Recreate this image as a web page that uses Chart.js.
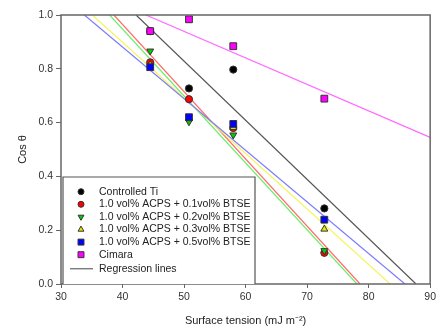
<!DOCTYPE html>
<html>
<head>
<meta charset="utf-8">
<script src="https://cdn.jsdelivr.net/npm/chart.js@4"></script>
<style>
  html, body { margin: 0; padding: 0; background: #fff; }
  #wrap { width: 439px; height: 328px; position: relative; }
</style>
</head>
<body>
<div id="wrap"><canvas id="grafico"></canvas></div>
<script>
// surface tension of the test liquids (mJ m-2)
const tension = [44.5, 50.8, 58.0, 72.8];

// cos theta for each surface
const controlledTi = [0.940, 0.727, 0.797, 0.281];
const btse01 = [0.824, 0.687, 0.580, 0.116];
const btse02 = [0.866, 0.603, 0.554, 0.124];
const btse03 = [0.815, 0.615, 0.582, 0.204];
const btse05 = [0.806, 0.620, 0.595, 0.239];
const cimara = [0.940, 0.984, 0.884, 0.689];

const seriesNames = [
    'Controlled Ti',
    '1.0 vol% ACPS + 0.1vol% BTSE',
    '1.0 vol% ACPS + 0.2vol% BTSE',
    '1.0 vol% ACPS + 0.3vol% BTSE',
    '1.0 vol% ACPS + 0.5vol% BTSE',
    'Cimara'
];

// regression line end points, same order as the series
const regStartX = [42.2, 38.6, 37.9, 35.1, 33.8, 43.8];
const regStartY = [1.0, 1.0, 1.0, 1.0, 1.0, 1.0];
const regEndX = [87.7, 78.6, 78.1, 83.5, 85.9, 90.0];
const regEndY = [0.0, 0.0, 0.0, 0.0, 0.0, 0.545];

const xTicks = [30, 40, 50, 60, 70, 80, 90];
const yTicks = [0.0, 0.2, 0.4, 0.6, 0.8, 1.0];

const values = [controlledTi, btse01, btse02, btse03, btse05, cimara];
const fills = ['#000000', '#ff0000', '#00d000', '#e8e800', '#0000ff', '#ff00ff'];
const lineColors = ['#555555', '#ff6a6a', '#6aee6a', '#f4f460', '#7c7cff', '#ff6cff'];
const styles = ['circle', 'circle', 'triangle', 'triangle', 'rect', 'rect'];
const rotations = [0, 0, 180, 0, 0, 0];
const radii = [3.6, 3.6, 4, 4, 4.8, 4.8];

const FONT = '"Liberation Sans", Arial, sans-serif';

const datasets = [];
values.forEach((vals, i) => {
    datasets.push({
        label: seriesNames[i],
        data: tension.map((t, k) => ({x: t, y: vals[k]})),
        showLine: false,
        pointStyle: styles[i],
        rotation: rotations[i],
        pointRadius: radii[i],
        backgroundColor: fills[i],
        borderColor: '#333',
        borderWidth: 1,
        order: 16 - i
    });
});
values.forEach((vals, i) => {
    datasets.push({
        label: 'reg' + i,
        data: [{x: regStartX[i], y: regStartY[i]}, {x: regEndX[i], y: regEndY[i]}],
        showLine: true,
        pointRadius: 0,
        borderColor: lineColors[i],
        borderWidth: 1.2,
        order: 30 - i
    });
});

const frame = {
    id: 'frame',
    afterDatasetsDraw(chart) {
        const a = chart.chartArea;
        const c = chart.ctx;
        c.save();
        c.strokeStyle = '#666';
        c.lineWidth = 1.5;
        c.strokeRect(a.left, a.top, a.right - a.left, a.bottom - a.top);

        // legend box
        const L = 63, T = 177, R = 255, B = a.bottom;
        c.fillStyle = '#fff';
        c.fillRect(L, T, R - L, B - T);
        c.strokeStyle = '#555';
        c.lineWidth = 1.2;
        c.beginPath();
        c.moveTo(L, B);
        c.lineTo(L, T);
        c.lineTo(R, T);
        c.lineTo(R, B);
        c.stroke();

        c.font = '10.5px ' + FONT;
        c.textBaseline = 'middle';
        const rowH = 12.6;
        for (let i = 0; i < seriesNames.length; i++) {
            const y = 191.7 + i * rowH;
            c.fillStyle = fills[i];
            c.strokeStyle = '#333';
            c.lineWidth = 1;
            Chart.helpers.drawPoint(c, {
                pointStyle: styles[i], rotation: rotations[i], radius: radii[i] - 0.6, borderWidth: 1
            }, 81, y);
            c.fillStyle = '#222';
            c.fillText(seriesNames[i], 99, y);
        }
        const ry = 191.7 + 6 * rowH + 1.5;
        c.strokeStyle = '#444';
        c.lineWidth = 1;
        c.beginPath();
        c.moveTo(70, ry);
        c.lineTo(93, ry);
        c.stroke();
        c.fillStyle = '#222';
        c.fillText('Regression lines', 99, ry);
        c.restore();
    }
};

new Chart(document.getElementById('grafico'), {
    type: 'scatter',
    data: {datasets: datasets},
    options: {
        responsive: true,
        maintainAspectRatio: false,
        animation: false,
        layout: {padding: {left: 0, right: 6, top: 15, bottom: 0}},
        plugins: {
            legend: {display: false},
            tooltip: {enabled: false}
        },
        scales: {
            x: {
                type: 'linear',
                min: 30,
                max: 90,
                afterBuildTicks: s => { s.ticks = xTicks.map(v => ({value: v})); },
                afterFit: s => { s.height = 44; },
                grid: {drawOnChartArea: false, tickLength: 4, color: '#666', lineWidth: 1},
                border: {display: false},
                ticks: {color: '#333', font: {family: FONT, size: 10.5}, padding: 3, maxRotation: 0},
                title: {
                    display: true,
                    text: 'Surface tension (mJ m\u207B\u00B2)',
                    color: '#222',
                    font: {family: FONT, size: 11},
                    padding: {top: 6, bottom: 0}
                }
            },
            y: {
                type: 'linear',
                min: 0,
                max: 1,
                afterBuildTicks: s => { s.ticks = yTicks.map(v => ({value: v})); },
                afterFit: s => { s.width = 61; },
                grid: {drawOnChartArea: false, tickLength: 5, color: '#666', lineWidth: 1},
                border: {display: false},
                ticks: {
                    color: '#333',
                    font: {family: FONT, size: 10.5},
                    padding: 3,
                    callback: v => v.toFixed(1)
                },
                title: {
                    display: true,
                    text: 'Cos \u03B8',
                    color: '#222',
                    font: {family: FONT, size: 11},
                    padding: {top: 16, bottom: 8}
                }
            }
        }
    },
    plugins: [frame]
});
</script>
</body>
</html>
